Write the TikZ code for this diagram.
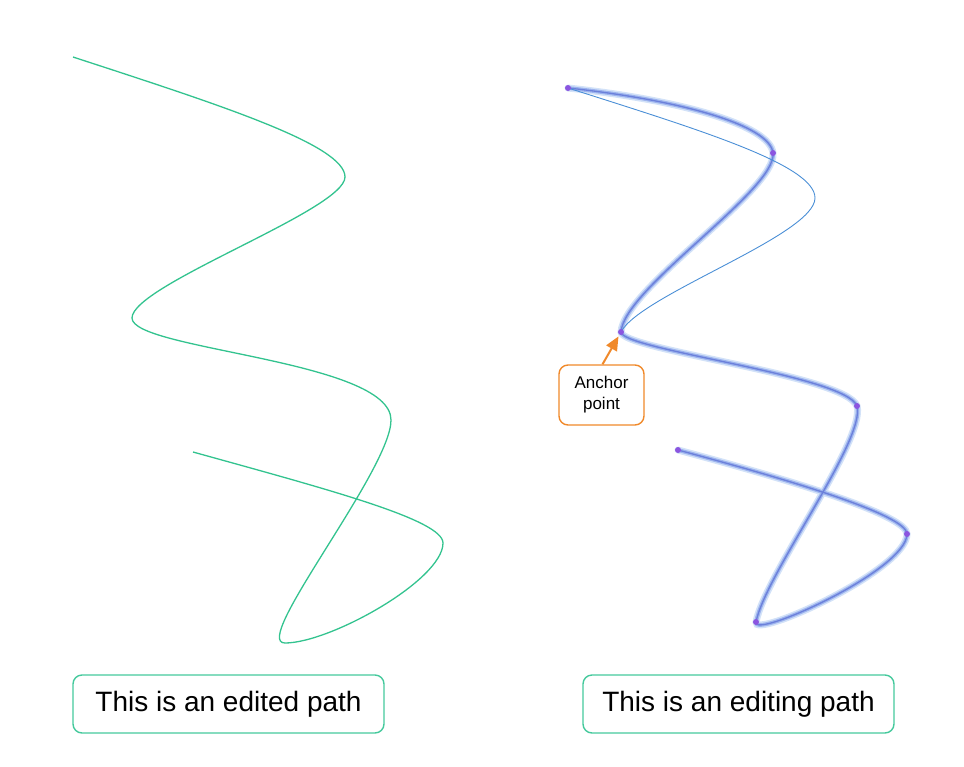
\documentclass[tikz,border=0pt]{standalone}
\usepackage{fontspec}
\setmainfont{Liberation Sans}
\usetikzlibrary{arrows.meta,positioning}

\definecolor{pathgreen}{HTML}{33C38F}
\definecolor{boxgreen}{HTML}{45C99C}
\definecolor{glowblue}{HTML}{D3E2F8}
\definecolor{midblue}{HTML}{9CB3EE}
\definecolor{coreblue}{HTML}{6B80DA}
\definecolor{thinblue}{HTML}{4B8FD6}
\definecolor{dotpurple}{HTML}{8B55E0}
\definecolor{calloutorange}{HTML}{F0892A}

\begin{document}
\begin{tikzpicture}[x=1pt, y=-1pt,
  editedline/.style={draw=pathgreen, line width=1.3pt},
  glowline/.style={draw=glowblue, line width=7pt, line cap=round},
  midline/.style={draw=midblue, line width=3.8pt, line cap=round},
  coreline/.style={draw=coreblue, line width=1.3pt, line cap=round},
  origline/.style={draw=thinblue, line width=0.9pt},
  anchordot/.style={fill=dotpurple, circle, inner sep=0pt, minimum size=6pt},
  captionbox/.style={draw=boxgreen, line width=1.4pt, rounded corners=9pt,
                     minimum width=311pt, minimum height=58pt,
                     font=\fontsize{28}{34}\selectfont},
  calloutbox/.style={draw=calloutorange, line width=1.4pt, rounded corners=9pt,
                     minimum width=85pt, minimum height=60pt, align=center,
                     font=\fontsize{17}{21}\selectfont},
  calloutarrow/.style={draw=calloutorange, line width=2pt,
                       -{Triangle[length=14pt,width=12pt]}, shorten >=5pt}]

\useasboundingbox (0,0) rectangle (964,766);

% edited path
\coordinate (e0) at (73,57);
\coordinate (e1) at (345,177);
\coordinate (e2) at (132,318);
\coordinate (e3) at (391,420);
\coordinate (e4) at (285,643);
\coordinate (e5) at (443,543);
\coordinate (e6) at (193,452);

\draw[editedline] (e0) .. controls (220,105) and (345,145) .. (e1)
  .. controls (345,210) and (132,285) .. (e2)
  .. controls (132,350) and (391,360) .. (e3)
  .. controls (391,470) and (250,643) .. (e4)
  .. controls (330,643) and (443,580) .. (e5)
  .. controls (443,520) and (330,490) .. (e6);

% editing path
\coordinate (a0) at (568,88);
\coordinate (a1) at (773,153);
\coordinate (a2) at (621,332);
\coordinate (a3) at (857,406);
\coordinate (a4) at (756,622);
\coordinate (a5) at (907,534);
\coordinate (a6) at (678,450);
\coordinate (o1) at (815,198);

\foreach \layer in {glowline,midline,coreline}
  \draw[\layer] (a0) .. controls (680,100) and (770,125) .. (a1)
    .. controls (777,190) and (624,288) .. (a2)
    .. controls (622,350) and (845,375) .. (a3)
    .. controls (866,440) and (765,575) .. (a4)
    .. controls (752,640) and (907,570) .. (a5)
    .. controls (907,515) and (790,480) .. (a6);

\draw[origline] (a0) .. controls (700,130) and (815,165) .. (o1)
  .. controls (815,235) and (640,295) .. (a2);

\foreach \p in {a0,a1,a2,a3,a4,a5,a6}
  \node[anchordot] at (\p) {};

\node[calloutbox] (callout) at (601.5,395) {Anchor\\point};
\draw[calloutarrow] ([xshift=1pt]callout.north) -- (a2);

\node[captionbox] (edited) at (228.5,704) {This is an edited path};
\node[captionbox] (editing) at (738.5,704) {This is an editing path};
\end{tikzpicture}
\end{document}
